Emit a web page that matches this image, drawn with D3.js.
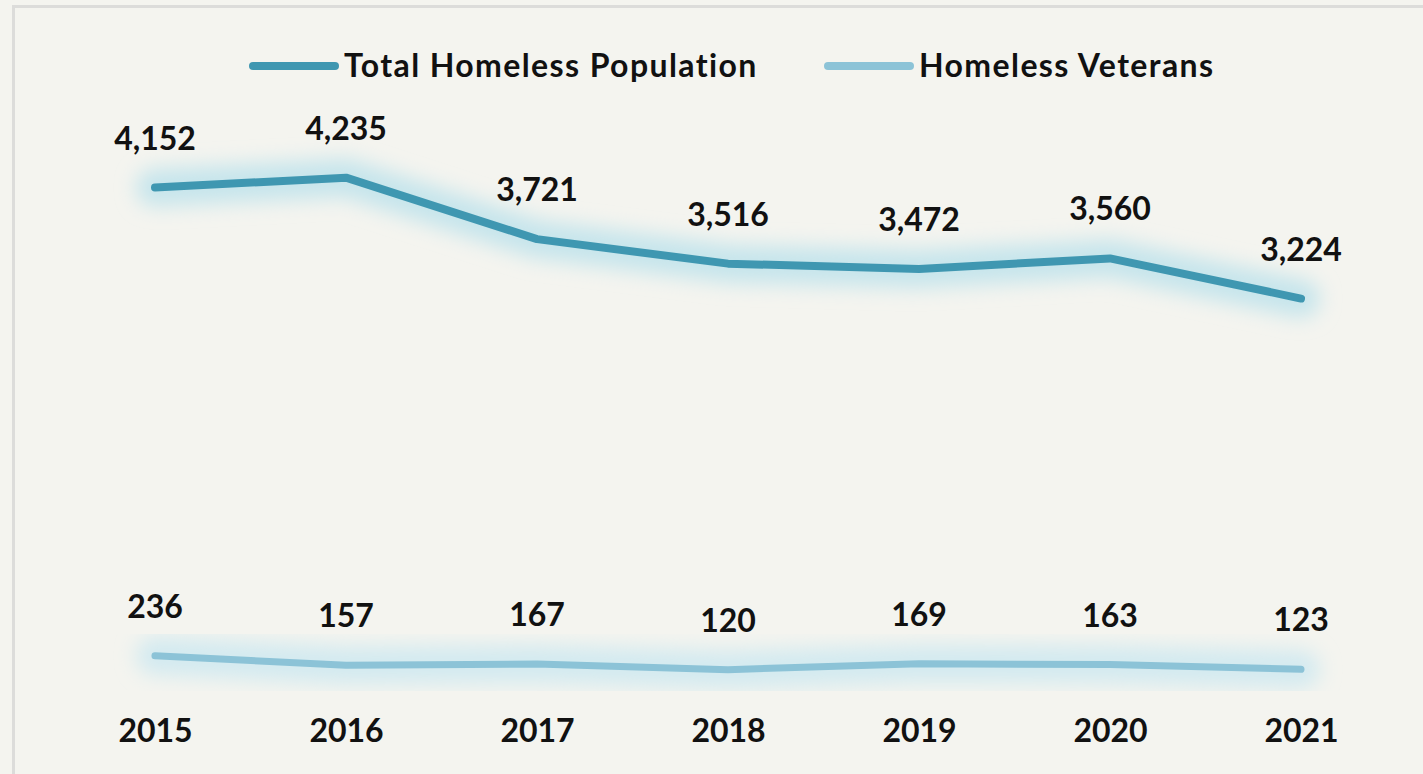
<!DOCTYPE html>
<html>
<head>
<meta charset="utf-8">
<script src="https://cdn.jsdelivr.net/npm/d3@7"></script>
<style>
  html, body { margin: 0; padding: 0; background: #f4f4ef; }
  svg { display: block; }
  text { font-family: Lato, "Open Sans", sans-serif; fill: #111; }
</style>
</head>
<body>
<div id="chart"></div>
<script>
// data
const years = ["2015", "2016", "2017", "2018", "2019", "2020", "2021"];
const totalHomeless = [4152, 4235, 3721, 3516, 3472, 3560, 3224];
const homelessVeterans = [236, 157, 167, 120, 169, 163, 123];
const seriesNames = ["Total Homeless Population", "Homeless Veterans"];
const seriesColors = ["#3f97b1", "#8cc3d7"];

const WIDTH = 1423, HEIGHT = 774;

let svg = d3.select('#chart')
  .append('svg')
  .attr('width', WIDTH)
  .attr('height', HEIGHT);

// soft glow behind lines
let defs = svg.append('defs');
defs.append('filter')
  .attr('id', 'glow')
  .attr('x', '-10%').attr('y', '-150%')
  .attr('width', '120%').attr('height', '400%')
  .append('feGaussianBlur')
  .attr('stdDeviation', 10);

// background + border
svg.append('rect')
  .attr('width', WIDTH).attr('height', HEIGHT)
  .attr('fill', '#f4f4ef');
svg.append('path')
  .attr('d', `M13.5,${HEIGHT + 5} V6.5 H${WIDTH + 5}`)
  .attr('fill', 'none')
  .attr('stroke', '#dcdcda')
  .attr('stroke-width', 3);

const xScale = d3.scalePoint()
  .domain(years)
  .range([155, 1301]);

const yScale = d3.scaleLinear()
  .domain([0, 4500])
  .range([684, 146]);

const line = d3.line()
  .x((d, i) => xScale(years[i]))
  .y(d => yScale(d));

const series = [totalHomeless, homelessVeterans];
const widths = [8, 7];
const glowColors = ["#c6e5ec", "#d3eaf0"];

let linesG = svg.append('g').attr('id', 'lines');

series.forEach((vals, s) => {
  linesG.append('path')
    .datum(vals)
    .attr('d', line)
    .attr('fill', 'none')
    .attr('stroke', glowColors[s])
    .attr('stroke-width', 38)
    .attr('stroke-linecap', 'round')
    .attr('stroke-linejoin', 'round')
    .attr('filter', 'url(#glow)');
});

series.forEach((vals, s) => {
  linesG.append('path')
    .datum(vals)
    .attr('d', line)
    .attr('fill', 'none')
    .attr('stroke', seriesColors[s])
    .attr('stroke-width', widths[s])
    .attr('stroke-linecap', 'round')
    .attr('stroke-linejoin', 'round');

  // data labels
  linesG.append('g')
    .selectAll('text')
    .data(vals)
    .join('text')
    .attr('x', (d, i) => xScale(years[i]))
    .attr('y', d => yScale(d) - 38)
    .attr('text-anchor', 'middle')
    .attr('font-size', 32)
    .attr('font-weight', 'bold')
    .text(d => d3.format(',')(d));
});

// x axis labels
let xAxisG = svg.append('g')
  .attr('transform', 'translate(0,742)')
  .call(d3.axisBottom(xScale).tickSize(0).tickPadding(0));
xAxisG.select('.domain').remove();
xAxisG.selectAll('text')
  .attr('dy', 0)
  .attr('font-size', 32)
  .attr('font-weight', 'bold')
  .attr('font-family', 'Lato, sans-serif')
  .attr('fill', '#111');

// legend
const legendX = [253, 828];
let legendG = svg.append('g').attr('id', 'legend');
seriesNames.forEach((name, s) => {
  legendG.append('line')
    .attr('x1', legendX[s]).attr('x2', legendX[s] + 82)
    .attr('y1', 66).attr('y2', 66)
    .attr('stroke', seriesColors[s])
    .attr('stroke-width', 8)
    .attr('stroke-linecap', 'round');
  legendG.append('text')
    .attr('x', legendX[s] + 91)
    .attr('y', 77)
    .attr('font-size', 32)
    .attr('letter-spacing', 1.4)
    .attr('font-weight', 'bold')
    .text(name);
});
</script>
</body>
</html>
